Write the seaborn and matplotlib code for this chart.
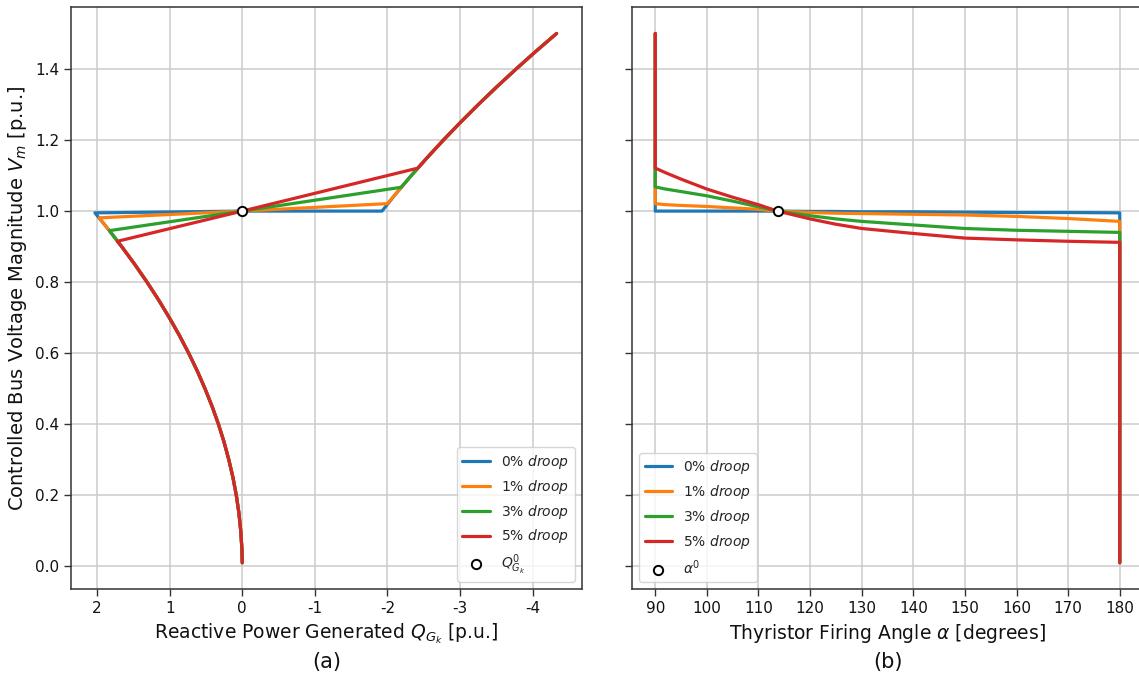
import matplotlib
matplotlib.use("Agg")
import matplotlib.pyplot as plt
import numpy as np
import pandas as pd
import seaborn as sns

# ---------------- data ----------------
droop_labels = [r"0% $droop$", r"1% $droop$", r"3% $droop$", r"5% $droop$"]

# lower (capacitive) limit curve: voltage vs reactive power generated
v_low = [0.01, 0.05, 0.10, 0.15, 0.20, 0.25, 0.30, 0.35, 0.40, 0.45, 0.50,
         0.55, 0.60, 0.65, 0.70, 0.75, 0.80, 0.85, 0.90, 0.95]
q_low = [0.000, 0.005, 0.021, 0.046, 0.082, 0.128, 0.185, 0.251, 0.328, 0.415, 0.513,
         0.620, 0.738, 0.866, 1.005, 1.153, 1.312, 1.481, 1.661, 1.850]

# upper (inductive) limit curve
v_up = [1.05, 1.10, 1.15, 1.20, 1.25, 1.30, 1.35, 1.40, 1.45, 1.50]
q_up = [-2.122, -2.329, -2.546, -2.772, -3.008, -3.253, -3.508, -3.773, -4.047, -4.331]

# points where each droop characteristic meets the limit curves
q_knee_low = [2.03, 1.97, 1.83, 1.72]
v_knee_low = [0.995, 0.981, 0.945, 0.915]
q_knee_up = [-1.925, -2.00, -2.19, -2.42]
v_knee_up = [1.000, 1.021, 1.067, 1.121]

# operating point
q0 = [0.0]
v0 = [1.0]

# firing angle characteristics
alpha_pts = [90, 92, 95, 100, 105, 110, 113.7, 120, 125, 130, 140, 150, 160, 170, 180]
v_alpha_0 = [1.000, 1.000, 1.000, 1.000, 1.000, 1.000, 1.000, 0.999, 0.999, 0.998,
             0.998, 0.997, 0.996, 0.996, 0.995]
v_alpha_1 = [1.021, 1.018, 1.016, 1.013, 1.009, 1.005, 1.000, 0.996, 0.994, 0.993,
             0.991, 0.989, 0.985, 0.979, 0.971]
v_alpha_3 = [1.068, 1.062, 1.055, 1.043, 1.028, 1.012, 1.000, 0.987, 0.978, 0.971,
             0.961, 0.951, 0.946, 0.943, 0.940]
v_alpha_5 = [1.121, 1.108, 1.090, 1.062, 1.039, 1.018, 1.000, 0.978, 0.963, 0.951,
             0.937, 0.924, 0.919, 0.915, 0.912]
v_alpha = [v_alpha_0, v_alpha_1, v_alpha_3, v_alpha_5]
v_alpha_top = 1.5
v_alpha_bottom = 0.01
alpha0 = [113.7]

q_ticks = [2, 1, 0, -1, -2, -3, -4]
q_tick_labels = ["2", "1", "0", "-1", "-2", "-3", "-4"]
v_ticks = [0.0, 0.2, 0.4, 0.6, 0.8, 1.0, 1.2, 1.4]
alpha_ticks = [90, 100, 110, 120, 130, 140, 150, 160, 170, 180]

# ---------------- style ----------------
sns.set_theme(context="notebook", style="ticks")
plt.rcParams["font.family"] = ["DejaVu Sans"]
plt.rcParams["axes.unicode_minus"] = False
colors = sns.color_palette("tab10", 4)
LW = 2.3

fig = plt.figure(figsize=(11.39, 6.75), dpi=100)
axL = fig.add_axes([0.0623, 0.1271, 0.4486, 0.8625])
axR = fig.add_axes([0.5549, 0.1271, 0.4486, 0.8625], sharey=axL)

# ---------------- (a) V vs Q ----------------
v_low_a = np.array(v_low)
q_low_a = np.array(q_low)
v_up_a = np.array(v_up)
q_up_a = np.array(q_up)
for i, lab in enumerate(droop_labels):
    m_lo = v_low_a < v_knee_low[i]
    m_up = v_up_a > v_knee_up[i]
    q_path = list(q_low_a[m_lo]) + [q_knee_low[i], q0[0], q_knee_up[i]] + list(q_up_a[m_up])
    v_path = list(v_low_a[m_lo]) + [v_knee_low[i], v0[0], v_knee_up[i]] + list(v_up_a[m_up])
    df = pd.DataFrame({"Q": q_path, "V": v_path})
    sns.lineplot(data=df, x="Q", y="V", sort=False, estimator=None, color=colors[i],
                 linewidth=LW, label=lab, ax=axL)
sns.scatterplot(x=q0, y=v0, s=45, color="white", edgecolor="black", linewidth=1.4,
                zorder=5, label=r"$Q^0_{G_k}$", ax=axL)

# ---------------- (b) V vs alpha ----------------
for i, lab in enumerate(droop_labels):
    a_path = [alpha_pts[0]] + list(alpha_pts) + [alpha_pts[-1]]
    v_path = [v_alpha_top] + list(v_alpha[i]) + [v_alpha_bottom]
    df = pd.DataFrame({"alpha": a_path, "V": v_path})
    sns.lineplot(data=df, x="alpha", y="V", sort=False, estimator=None, color=colors[i],
                 linewidth=LW, label=lab, ax=axR)
sns.scatterplot(x=alpha0, y=v0, s=45, color="white", edgecolor="black", linewidth=1.4,
                zorder=5, label=r"$\alpha^0$", ax=axR)

# ---------------- axes ----------------
axL.set_xlim(2.36, -4.68)
axL.set_ylim(-0.0645, 1.5745)
axL.set_xticks(q_ticks)
axL.set_xticklabels(q_tick_labels)
axL.set_yticks(v_ticks)
axL.set_yticklabels([f"{t:.1f}" for t in v_ticks])
axR.set_xlim(85.5, 184.5)
axR.set_xticks(alpha_ticks)
axR.tick_params(axis="y", labelleft=False)

for ax in (axL, axR):
    ax.grid(True, color="#cccccc", linewidth=1.1)
    ax.set_axisbelow(True)
    ax.tick_params(axis="both", labelsize=11, length=5, width=1.0, color="#333333",
                   labelcolor="#111111")
    for sp in ax.spines.values():
        sp.set_color("#333333")
        sp.set_linewidth(1.1)

axL.set_xlabel(r"Reactive Power Generated $Q_{G_k}$ [p.u.]", fontsize=13.5, color="#111111")
axL.set_ylabel(r"Controlled Bus Voltage Magnitude $V_m$ [p.u.]", fontsize=14, color="#111111")
axR.set_xlabel(r"Thyristor Firing Angle $\alpha$ [degrees]", fontsize=13.5, color="#111111")
axR.set_ylabel("")

axL.text(0.5, -0.125, "(a)", transform=axL.transAxes, ha="center", va="center",
         fontsize=15, color="#111111")
axR.text(0.5, -0.125, "(b)", transform=axR.transAxes, ha="center", va="center",
         fontsize=15, color="#111111")

axL.legend(loc="lower right", fontsize=10)
axR.legend(loc="lower left", fontsize=10)

fig.savefig("out.png", dpi=100)
